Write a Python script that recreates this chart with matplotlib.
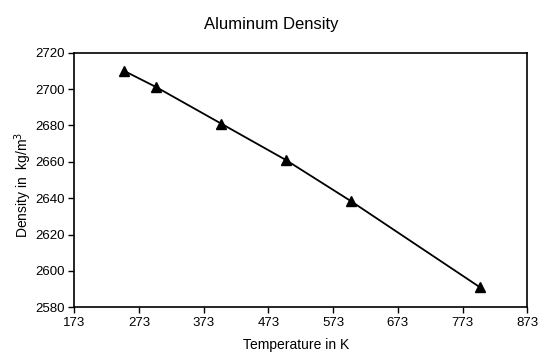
import matplotlib
matplotlib.use("Agg")
import matplotlib.pyplot as plt

plt.rcParams['font.family'] = ['Liberation Sans', 'DejaVu Sans']

temperature = [250, 300, 400, 500, 600, 800]
density = [2710, 2701, 2681, 2661, 2638.5, 2591]
x_ticks = [173, 273, 373, 473, 573, 673, 773, 873]
y_ticks = [2580, 2600, 2620, 2640, 2660, 2680, 2700, 2720]

W, H = 550, 359
fig = plt.figure(figsize=(W / 100, H / 100), dpi=100)
left, right, top, bottom = 74.3, 527.2, 52.7, 307.3
ax = fig.add_axes([left / W, 1 - bottom / H, (right - left) / W, (bottom - top) / H])

ax.plot(temperature, density, color='black', linewidth=1.3, marker='^',
        markersize=7, markerfacecolor='black', markeredgecolor='black')

ax.set_xlim(173, 873)
ax.set_ylim(2580, 2720)
ax.set_xticks(x_ticks)
ax.set_yticks(y_ticks)
ax.tick_params(direction='out', length=4, width=1, labelsize=9.5, pad=3,
               top=False, right=False)
for s in ax.spines.values():
    s.set_linewidth(1.2)
    s.set_color('black')

fig.text(296 / W, 1 - 345 / H, 'Temperature in K', ha='center', va='center',
         fontsize=10)
fig.text(23 / W, 1 - 185 / H, 'Density in  kg/m$^3$', ha='center', va='center',
         rotation=90, fontsize=10)
fig.text(271.5 / W, 1 - 25 / H, 'Aluminum Density', ha='center',
         va='center', fontsize=12)

fig.savefig('out.png', dpi=100)
